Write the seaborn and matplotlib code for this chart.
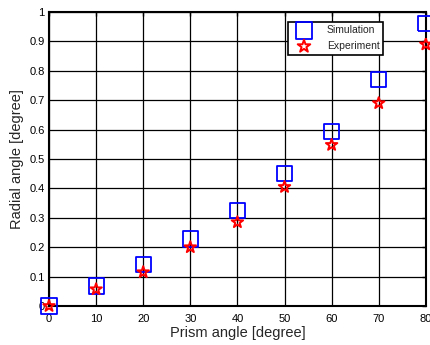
import pandas as pd
import seaborn as sns
import matplotlib.pyplot as plt

# values
prism_angle = [0, 10, 20, 30, 40, 50, 60, 70, 80]
simulation = [0.0, 0.068, 0.14, 0.228, 0.325, 0.45, 0.595, 0.77, 0.96]
experiment = [0.0, 0.057, 0.115, 0.2, 0.285, 0.405, 0.548, 0.69, 0.89]

x_ticks = [0, 10, 20, 30, 40, 50, 60, 70, 80]
y_ticks = [0, 0.1, 0.2, 0.3, 0.4, 0.5, 0.6, 0.7, 0.8, 0.9, 1]
y_ticklabels = ["0", "0.1", "0.2", "0.3", "0.4", "0.5", "0.6", "0.7", "0.8", "0.9", "1"]

df = pd.DataFrame({"angle": prism_angle, "Simulation": simulation, "Experiment": experiment})

sns.set_style("white")
plt.rcParams["font.family"] = ["Liberation Sans", "DejaVu Sans"]

fig = plt.figure(figsize=(4.31, 3.45), dpi=100)
ax = fig.add_axes([0.1137, 0.113, 0.8743, 0.852])

sns.scatterplot(data=df, x="angle", y="Simulation", marker="s", s=120,
                facecolor="none", edgecolor="blue", linewidth=1.3,
                label="Simulation", ax=ax, clip_on=False, zorder=3)
sns.scatterplot(data=df, x="angle", y="Experiment", marker="*", s=75,
                facecolor="none", edgecolor="red", linewidth=1.4,
                label="Experiment", ax=ax, clip_on=False, zorder=4)

ax.set_xlim(0, 80)
ax.set_ylim(0, 1)
ax.set_xticks(x_ticks)
ax.set_yticks(y_ticks)
ax.set_yticklabels(y_ticklabels)
ax.grid(True, color="black", linewidth=0.9)
ax.set_axisbelow(True)
ax.tick_params(direction="in", length=3, width=1, top=True, right=True,
               labelsize=8, pad=3, colors="black")
ax.tick_params(axis="x", pad=6)
for sp in ax.spines.values():
    sp.set_visible(True)
    sp.set_color("black")
    sp.set_linewidth(1.5)

ax.set_xlabel("Prism angle [degree]", fontsize=10.5, labelpad=1)
ax.set_ylabel("Radial angle [degree]", fontsize=10.5, labelpad=4)

leg = ax.legend(loc="upper left", bbox_to_anchor=(0.62, 0.985), fontsize=7.5,
                frameon=True, fancybox=False, edgecolor="black",
                borderpad=0.35, handletextpad=1.0, labelspacing=0.55,
                handlelength=2.4, markerscale=1.1)
leg.get_frame().set_linewidth(1.2)
leg.get_frame().set_alpha(1)

fig.savefig("out.png", dpi=100)
